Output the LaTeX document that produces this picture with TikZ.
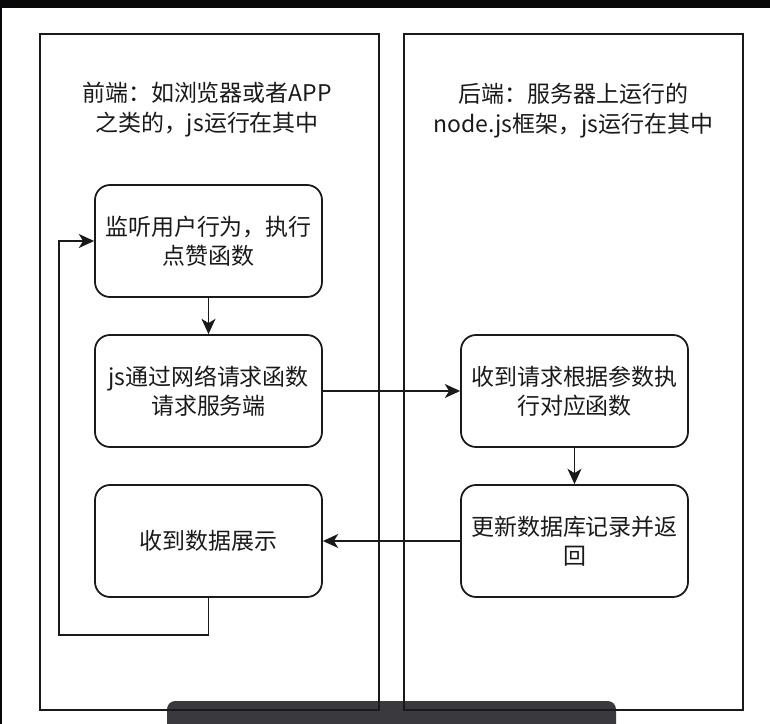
\documentclass[tikz,border=0pt]{standalone}
\usepackage{fontspec}
\setmainfont{Noto Sans CJK SC}
\usepackage{tikz}
\usetikzlibrary{arrows.meta}
\definecolor{bar}{RGB}{8,8,10}
\definecolor{toolbar}{RGB}{58,58,62}
\definecolor{ink}{RGB}{26,26,26}

\begin{document}
\begin{tikzpicture}[x=0.03cm, y=-0.03cm,
    lane/.style={draw=ink, line width=1.6pt, minimum width=10.17cm, minimum height=20.28cm},
    header/.style={align=center, text=ink, font=\fontsize{19.6}{25.5}\selectfont},
    stepbox/.style={draw=ink, line width=1.5pt, rounded corners=0.45cm, align=center, text=ink,
      minimum width=6.81cm, minimum height=3.36cm, font=\fontsize{19.6}{24.8}\selectfont},
    flow/.style={draw=ink, line width=1.4pt, -{Stealth[length=0.46cm, width=0.42cm, inset=0.13cm]}}]
   \useasboundingbox (0,0) rectangle (770,724);
   \fill[white] (0,0) rectangle (770,724);
   \fill[bar] (0,0) rectangle (770,8);
   \fill[bar] (0,8) rectangle (2,724);
   \fill[toolbar, rounded corners=0.25cm] (167,701) rectangle (616,740);

   \node[lane] (front) at (209.5,372) {};
   \node[lane] (back) at (573.5,372) {};
   \node[header] (fronttxt) at (207,110) {前端：如浏览器或者APP\\之类的，js运行在其中};
   \node[header] (backtxt) at (573.5,111) {后端：服务器上运行的\\node.js框架，js运行在其中};

   \node[stepbox] (listen) at (208.5,241) {监听用户行为，执行\\点赞函数};
   \node[stepbox] (request) at (208.5,391) {js通过网络请求函数\\请求服务端};
   \node[stepbox] (show) at (208.5,541) {收到数据展示};
   \node[stepbox] (handle) at (574.5,391) {收到请求根据参数执\\行对应函数};
   \node[stepbox] (update) at (574.5,541) {更新数据库记录并返\\回};

   \coordinate (loopbot) at (59,635);
   \coordinate (looptop) at (59,241);

   \draw[flow] (listen) -- (request);
   \draw[flow] (request) -- (handle);
   \draw[flow] (handle) -- (update);
   \draw[flow] (update) -- (show);
   \draw[flow] (show.south) |- (loopbot) -- (looptop) -- (listen.west);
  \end{tikzpicture}
\end{document}
